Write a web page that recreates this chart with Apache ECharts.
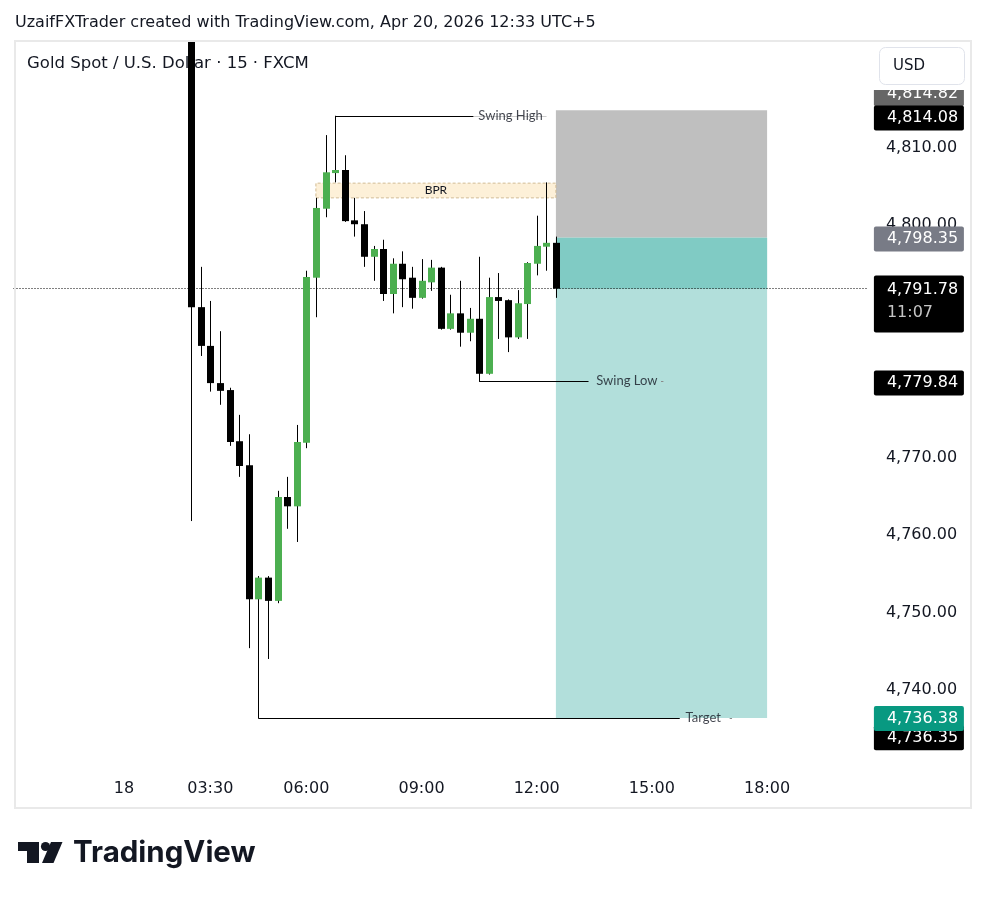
<!DOCTYPE html>
<html>
<head>
<meta charset="utf-8">
<title>Gold Spot / U.S. Dollar · 15 · FXCM</title>
<script src="https://cdn.jsdelivr.net/npm/echarts@6/dist/echarts.min.js"></script>
<style>
  html, body { margin: 0; padding: 0; background: #ffffff; }
  #chart { width: 987px; height: 898px; }
</style>
</head>
<body>
<div id="chart"></div>
<script>
// XAUUSD, 15-minute bars, Apr 20 2026 (UTC+5). Bar 0 is the 03:00 session open.
const opens  = [4826.5, 4789.4, 4784.4, 4779.6, 4778.7, 4772.1, 4769.0, 4751.7, 4754.5, 4751.5,
                4764.9, 4763.7, 4771.9, 4793.2, 4802.1, 4806.7, 4807.1, 4800.6, 4800.1, 4795.9,
                4796.9, 4791.1, 4795.0, 4793.2, 4790.6, 4792.6, 4794.5, 4786.6, 4788.6, 4786.1,
                4787.9, 4780.8, 4790.7, 4790.3, 4785.5, 4789.8, 4795.0, 4797.2, 4797.7];
const highs  = [4829.0, 4794.6, 4790.2, 4786.3, 4779.0, 4775.5, 4773.0, 4754.7, 4754.7, 4765.7,
                4767.5, 4774.2, 4794.1, 4803.5, 4811.6, 4814.08, 4809.0, 4803.5, 4801.8, 4797.3,
                4798.1, 4795.7, 4796.6, 4794.6, 4795.6, 4795.5, 4794.6, 4791.0, 4792.8, 4789.3,
                4795.9, 4793.2, 4793.8, 4790.4, 4791.6, 4795.2, 4801.2, 4805.5, 4798.5];
const lows   = [4761.8, 4783.1, 4778.5, 4776.8, 4771.5, 4767.5, 4745.4, 4746.0, 4744.0, 4751.2,
                4760.8, 4759.1, 4771.2, 4788.1, 4801.0, 4805.5, 4800.4, 4798.5, 4794.6, 4792.8,
                4790.2, 4788.6, 4789.4, 4789.2, 4790.5, 4791.5, 4786.5, 4786.5, 4784.3, 4785.0,
                4779.84, 4780.7, 4785.3, 4783.6, 4785.3, 4785.3, 4793.5, 4794.1, 4790.6];
const closes = [4789.4, 4784.4, 4779.6, 4778.6, 4772.0, 4768.9, 4751.7, 4754.5, 4751.5, 4764.9,
                4763.7, 4772.0, 4793.3, 4802.2, 4806.8, 4807.1, 4800.5, 4800.1, 4795.9, 4796.9,
                4791.1, 4795.0, 4793.0, 4790.6, 4792.8, 4794.5, 4786.6, 4788.6, 4786.1, 4787.9,
                4780.8, 4790.7, 4790.2, 4785.5, 4789.9, 4795.1, 4797.3, 4797.7, 4791.78];

// Price levels
const lastPrice    = 4791.78;
const barCountdown = '11:07';
const swingHigh    = 4814.08;
const swingLow     = 4779.84;
const targetLevel  = 4736.35;
const entryPrice   = 4798.35;   // short position
const stopPrice    = 4814.82;
const takeProfit   = 4736.38;
const bprZone      = [4803.5, 4805.4];

// Axis ticks
const priceTicks = [4740, 4750, 4760, 4770, 4780, 4790, 4800, 4810];
const timeTickBars = [-7, 2, 12, 24, 36, 48, 60];
const timeTickLabels = ['18', '03:30', '06:00', '09:00', '12:00', '15:00', '18:00'];

// Time scale: one slot per 15 minutes, including the empty space left and right of the bars
const firstSlot = -18, lastSlot = 70;
const pad2 = n => String(n).padStart(2, '0');
const categories = [];
for (let i = firstSlot; i <= lastSlot; i++) {
  const m = ((3 * 60 + i * 15) % 1440 + 1440) % 1440;
  categories.push(pad2(Math.floor(m / 60)) + ':' + pad2(m % 60));
}

const fmt = v => v.toLocaleString('en-US', { minimumFractionDigits: 2, maximumFractionDigits: 2 });

const UP = '#4caf50', DOWN = '#000000', INK = '#131722';
const AXIS_FONT = 'DejaVu Sans';
const NOTE_FONT = 'Lato';
const CLEAR = 'rgba(0,0,0,0)';

const bars = opens.map((o, i) => [i, o, closes[i], lows[i], highs[i]]);

function renderCandle(params, api) {
  const cs = params.coordSys;
  const top = cs.y, bottom = cs.y + cs.height;
  const clampY = y => Math.max(top, Math.min(bottom, y));
  const x = api.value(0), o = api.value(1), c = api.value(2), l = api.value(3), h = api.value(4);
  const pO = api.coord([x, o]), pC = api.coord([x, c]);
  const pL = api.coord([x, l]), pH = api.coord([x, h]);
  const cx = Math.round(pO[0]);
  const bodyW = 7;
  const y1 = clampY(Math.min(pO[1], pC[1]));
  const y2 = clampY(Math.max(pO[1], pC[1]));
  return {
    type: 'group',
    children: [
      { type: 'line', shape: { x1: cx + 0.5, y1: clampY(pH[1]), x2: cx + 0.5, y2: clampY(pL[1]) },
        style: { stroke: '#000', lineWidth: 1 } },
      { type: 'rect', shape: { x: cx - 3, y: y1, width: bodyW, height: Math.max(1, y2 - y1) },
        style: { fill: c >= o ? UP : DOWN } }
    ]
  };
}

function priceTag(value, bg, dy) {
  return {
    yAxis: value,
    lineStyle: { color: CLEAR, width: 1, type: 'solid' },
    label: {
      show: true, position: 'end', distance: 6, offset: [0, dy],
      formatter: fmt(value),
      color: '#ffffff', backgroundColor: bg, borderRadius: 2,
      fontFamily: AXIS_FONT, fontSize: 16, lineHeight: 17,
      width: 77, padding: [4, 0, 4, 13]
    }
  };
}

const seg = (a, b, color) => [
  { coord: a, lineStyle: { color: color || '#000', width: 1, type: 'solid' } },
  { coord: b }
];

const chart = echarts.init(document.getElementById('chart'), null, { renderer: 'canvas' });

chart.setOption({
  animation: false,
  backgroundColor: '#ffffff',
  textStyle: { fontFamily: AXIS_FONT },
  grid: { left: 13.5, right: 119.1, top: 41, bottom: 128, containLabel: false },
  xAxis: [
    {
      type: 'category', data: categories, boundaryGap: true,
      axisLine: { show: false }, axisTick: { show: false }, splitLine: { show: false },
      axisLabel: {
        interval: 0, margin: 11, fontSize: 16, color: INK, fontFamily: AXIS_FONT,
        formatter: (v, idx) => {
          const k = timeTickBars.indexOf(idx + firstSlot);
          return k >= 0 ? timeTickLabels[k] : '';
        }
      }
    },
    { type: 'value', show: false, min: firstSlot - 0.5, max: lastSlot + 0.5 }
  ],
  yAxis: {
    type: 'value', position: 'right',
    min: 4729.677, max: 4823.742, splitNumber: 9,
    axisLine: { show: false }, axisTick: { show: false }, splitLine: { show: false },
    axisLabel: {
      margin: 18, fontSize: 16, color: INK, fontFamily: AXIS_FONT, align: 'left',
      formatter: v => priceTicks.includes(Math.round(v * 100) / 100) ? fmt(v) : ''
    }
  },
  series: [
    {
      name: 'zones', type: 'line', xAxisIndex: 1, data: [], z: 1, silent: true,
      markArea: {
        silent: true,
        data: [
          [{ xAxis: 38, yAxis: entryPrice, itemStyle: { color: '#bfbfbf' } }, { xAxis: 60, yAxis: stopPrice }],
          [{ xAxis: 38, yAxis: takeProfit, itemStyle: { color: '#b2dfdb' } }, { xAxis: 60, yAxis: entryPrice }],
          [{ xAxis: 38, yAxis: lastPrice, itemStyle: { color: '#80cbc4' } }, { xAxis: 60, yAxis: entryPrice }],
          [{
            xAxis: 13, yAxis: bprZone[0], name: 'BPR',
            itemStyle: { color: '#fdf0d8', borderColor: '#d2bb93', borderWidth: 1, borderType: [3, 2] },
            label: { show: true, position: 'inside', formatter: 'BPR', color: INK, fontFamily: NOTE_FONT, fontSize: 12 }
          }, { xAxis: 38, yAxis: bprZone[1] }]
        ],
        label: { show: false }
      }
    },
    {
      name: 'drawings', type: 'line', xAxisIndex: 1, data: [], z: 2, silent: true,
      markLine: {
        silent: true, symbol: ['none', 'none'], label: { show: false },
        data: [
          seg([15, 4805.6], [15, swingHigh]),
          seg([15, swingHigh], [37, swingHigh]),
          seg([30, 4780.8], [30, swingLow]),
          seg([30, swingLow], [41.4, swingLow]),
          seg([48.95, swingLow], [49.2, swingLow], '#8a8a8a'),
          seg([7, 4751.7], [7, targetLevel]),
          seg([7, targetLevel], [50.9, targetLevel]),
          seg([56.1, targetLevel], [56.35, targetLevel], '#8a8a8a')
        ]
      }
    },
    {
      name: 'XAUUSD', type: 'custom', xAxisIndex: 1, z: 5, silent: true,
      renderItem: renderCandle,
      encode: { x: 0, y: [1, 2, 3, 4] },
      data: bars
    },
    {
      name: 'notes', type: 'scatter', xAxisIndex: 1, z: 6, silent: true,
      symbolSize: 0,
      data: [
        { value: [29.4, swingHigh], name: 'Swing High',
          label: { backgroundColor: '#ffffff', padding: [2, 4, 2, 5] } },
        { value: [42.2, swingLow], name: 'Swing Low' },
        { value: [51.5, targetLevel], name: 'Target' }
      ],
      label: {
        show: true, position: 'right', distance: 0,
        formatter: p => p.name,
        color: INK, fontFamily: NOTE_FONT, fontSize: 13
      }
    },
    {
      name: 'price tags', type: 'line', xAxisIndex: 1, data: [], z: 8, silent: true,
      markLine: {
        silent: true, symbol: ['none', 'none'],
        data: [
          {
            yAxis: lastPrice,
            lineStyle: { color: '#000000', width: 1, type: [1, 2] },
            label: {
              show: true, position: 'end', distance: 6, offset: [0, 15.4],
              formatter: '{p|' + fmt(lastPrice) + '}\n{t|' + barCountdown + '}',
              backgroundColor: '#000000', borderRadius: 2,
              width: 77, padding: [3, 0, 8, 13],
              rich: {
                p: { color: '#ffffff', fontFamily: AXIS_FONT, fontSize: 16, lineHeight: 23 },
                t: { color: '#c4c4c4', fontFamily: AXIS_FONT, fontSize: 16, lineHeight: 23 }
              }
            }
          },
          priceTag(stopPrice, '#666666', -16.5),
          priceTag(swingHigh, '#000000', 2),
          priceTag(entryPrice, '#787b86', 1.2),
          priceTag(swingLow, '#000000', 1.8),
          priceTag(targetLevel, '#000000', 19.5),
          priceTag(takeProfit, '#089981', 0.5)
        ]
      }
    }
  ],
  graphic: [
    { type: 'text', z: 100, silent: true,
      style: { text: 'UzaifFXTrader created with TradingView.com, Apr 20, 2026 12:33 UTC+5',
               x: 15, y: 23, verticalAlign: 'middle', fill: INK, fontFamily: AXIS_FONT, fontSize: 16 } },
    { type: 'text', z: 0, silent: true,
      style: { text: 'Gold Spot / U.S. Dollar · 15 · FXCM',
               x: 27, y: 64, verticalAlign: 'middle', fill: INK, fontFamily: AXIS_FONT, fontSize: 16.5 } },
    // price-scale header strip behind the currency button
    { type: 'rect', z: 99, silent: true,
      shape: { x: 871, y: 42, width: 98, height: 48 },
      style: { fill: '#ffffff' } },
    { type: 'rect', z: 100, silent: true,
      shape: { x: 15, y: 41, width: 956, height: 767 },
      style: { fill: 'none', stroke: '#e9e9e9', lineWidth: 2 } },
    { type: 'rect', z: 100, silent: true,
      shape: { x: 879.5, y: 47.5, width: 85, height: 37, r: 6 },
      style: { fill: '#ffffff', stroke: '#e0e3eb', lineWidth: 1 } },
    { type: 'text', z: 101, silent: true,
      style: { text: 'USD', x: 893, y: 66, verticalAlign: 'middle', fill: INK, fontFamily: AXIS_FONT, fontSize: 15 } },
    // TradingView wordmark
    { type: 'rect', z: 100, silent: true, shape: { x: 18, y: 842, width: 21, height: 9 }, style: { fill: INK } },
    { type: 'rect', z: 100, silent: true, shape: { x: 27, y: 842, width: 12, height: 21 }, style: { fill: INK } },
    { type: 'circle', z: 100, silent: true, shape: { cx: 45.5, cy: 846.5, r: 4.6 }, style: { fill: INK } },
    { type: 'polygon', z: 100, silent: true,
      shape: { points: [[51, 842], [62.5, 842], [53.5, 863], [42, 863]] }, style: { fill: INK } },
    { type: 'text', z: 100, silent: true,
      style: { text: 'TradingView', x: 73, y: 853, verticalAlign: 'middle', fill: INK,
               fontFamily: 'Inter', fontWeight: 700, fontSize: 29.5 } }
  ]
});
</script>
</body>
</html>
